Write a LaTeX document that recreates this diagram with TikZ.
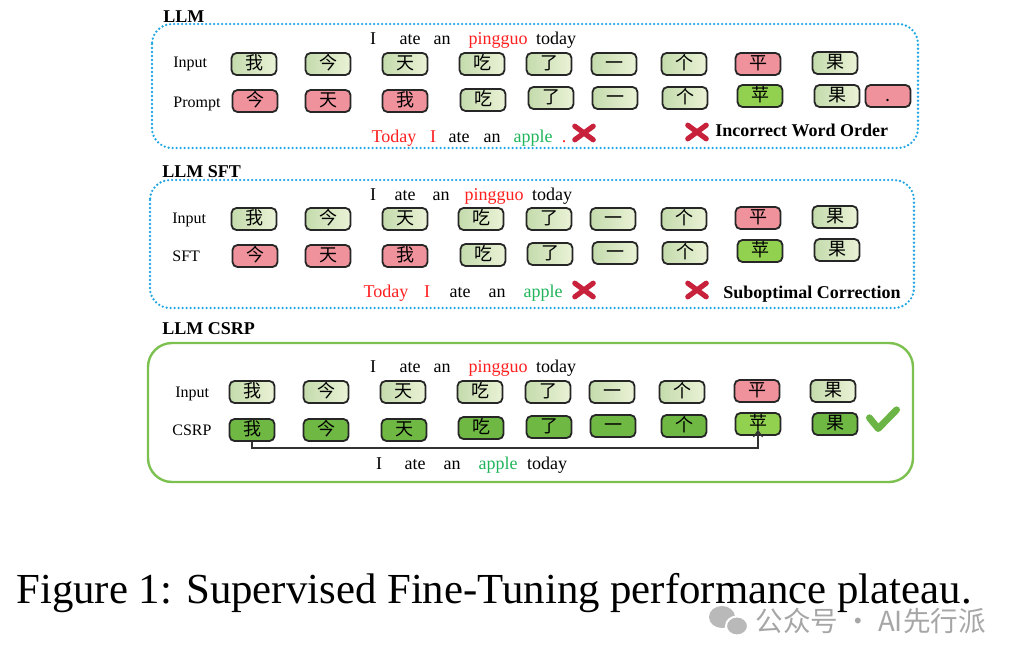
\documentclass[tikz,border=0pt]{standalone}
\usepackage{fontspec}
\setmainfont{Liberation Serif}
\newfontfamily\zh{Noto Sans CJK SC}
\usetikzlibrary{arrows.meta}

\definecolor{ginA}{HTML}{C4DBAC}
\definecolor{ginB}{HTML}{EAF2D6}
\definecolor{tokred}{HTML}{EF929B}
\definecolor{tokapple}{HTML}{92D050}
\definecolor{tokgood}{HTML}{70B844}
\definecolor{xred}{HTML}{C8213B}
\definecolor{wred}{HTML}{FF1E1E}
\definecolor{wgreen}{HTML}{1FB45A}
\definecolor{dotblue}{HTML}{22A7E3}
\definecolor{framegreen}{HTML}{7CC150}
\definecolor{checkgreen}{HTML}{6AB545}

\begin{document}
\begin{tikzpicture}[
        x=0.5pt, y=-0.5pt,
        font=\fontsize{9}{10}\selectfont,
        tok/.style={draw=black!85, line width=0.9pt, rounded corners=2.5pt, minimum width=22.5pt, minimum height=11pt, inner sep=0pt, text height=6.8pt, text depth=1.4pt, font=\zh\fontsize{9}{9}\selectfont},
        tin/.style={tok, left color=ginA, right color=ginB},
        tbad/.style={tok, fill=tokred},
        tfix/.style={tok, fill=tokapple},
        tgood/.style={tok, fill=tokgood},
        word/.style={anchor=base, inner sep=0pt},
        rowlabel/.style={anchor=base west, inner sep=0pt, font=\fontsize{8}{9}\selectfont},
        title/.style={anchor=base west, inner sep=0pt, font=\fontsize{9}{10}\selectfont\bfseries},
        verdict/.style={anchor=base west, inner sep=0pt, font=\fontsize{9}{10}\selectfont\bfseries},
        wrong/.style={minimum size=16pt, inner sep=0pt, path picture={
            \draw[xred, line width=2.6pt, line cap=round]
              ([shift={(-4.6pt,-3.4pt)}]path picture bounding box.center) -- ([shift={(4.6pt,3.4pt)}]path picture bounding box.center)
              ([shift={(-4.6pt,3.4pt)}]path picture bounding box.center) -- ([shift={(4.6pt,-3.4pt)}]path picture bounding box.center);}},
        right/.style={minimum size=24pt, inner sep=0pt, path picture={
            \draw[checkgreen, line width=3.4pt, line cap=round, line join=round]
              ([shift={(-6.8pt,0.6pt)}]path picture bounding box.center) -- ([shift={(-2.4pt,-4.8pt)}]path picture bounding box.center)
              -- ([shift={(6.8pt,4.6pt)}]path picture bounding box.center);}},
        dotframe/.style={draw=dotblue, line width=1.3pt, line cap=round, dash pattern=on 0pt off 2pt, rounded corners=10pt},
        solidframe/.style={draw=framegreen, line width=1.2pt, rounded corners=12pt}
      ]
      \useasboundingbox (0,0) rectangle (1018,664);

      % panel 1: LLM
      \draw[dotframe] (152,24) rectangle (918,148);
      \node[title] (t1) at (163,22) {LLM};
      \node[word] (aw1) at (373,45) {I};
      \node[word] (aw2) at (410,45) {ate};
      \node[word] (aw3) at (442,45) {an};
      \node[word, text=wred] (aw4) at (498,45) {pingguo};
      \node[word] (aw5) at (556,45) {today};
      \node[rowlabel] (la1) at (173,68) {Input};
      \node[tin] (a1) at (254,64) {我};
      \node[tin] (a2) at (328,64) {今};
      \node[tin] (a3) at (405,64) {天};
      \node[tin] (a4) at (482,64) {吃};
      \node[tin] (a5) at (549,64) {了};
      \node[tin] (a6) at (614,64) {一};
      \node[tin] (a7) at (684,64) {个};
      \node[tbad] (a8) at (758,64) {平};
      \node[tin] (a9) at (835,63) {果};
      \node[rowlabel] (lp1) at (173,107) {Prompt};
      \node[tbad] (p1) at (255,101) {今};
      \node[tbad] (p2) at (328,101) {天};
      \node[tbad] (p3) at (405,101) {我};
      \node[tin] (p4) at (483,100) {吃};
      \node[tin] (p5) at (551,98) {了};
      \node[tin] (p6) at (615,98) {一};
      \node[tin] (p7) at (685,98) {个};
      \node[tfix] (p8) at (760,96) {苹};
      \node[tin] (p9) at (837,96) {果};
      \node[tbad] (p10) at (888,96) {.};
      \node[word, text=wred] (bw1) at (394,142) {Today};
      \node[word, text=wred] (bw2) at (433,142) {I};
      \node[word] (bw3) at (459,142) {ate};
      \node[word] (bw4) at (492,142) {an};
      \node[word, text=wgreen] (bw5) at (533,142) {apple};
      \node[word, text=wred] (bw6) at (564,142) {.};
      \node[wrong] (x1) at (584,133) {};
      \node[wrong] (x2) at (697,132) {};
      \node[verdict] (v1) at (715,136) {Incorrect Word Order};

      % panel 2: LLM SFT
      \draw[dotframe] (150,180) rectangle (914,308);
      \node[title] (t2) at (162,177) {LLM SFT};
      \node[word] (cw1) at (373,200) {I};
      \node[word] (cw2) at (405,200) {ate};
      \node[word] (cw3) at (441,200) {an};
      \node[word, text=wred] (cw4) at (494,200) {pingguo};
      \node[word] (cw5) at (552,200) {today};
      \node[rowlabel] (la2) at (172,223) {Input};
      \node[tin] (b1) at (254,219) {我};
      \node[tin] (b2) at (328,219) {今};
      \node[tin] (b3) at (405,219) {天};
      \node[tin] (b4) at (481,219) {吃};
      \node[tin] (b5) at (549,219) {了};
      \node[tin] (b6) at (613,219) {一};
      \node[tin] (b7) at (684,219) {个};
      \node[tbad] (b8) at (758,218) {平};
      \node[tin] (b9) at (835,217) {果};
      \node[rowlabel] (ls2) at (172,261) {SFT};
      \node[tbad] (s1) at (255,256) {今};
      \node[tbad] (s2) at (328,256) {天};
      \node[tbad] (s3) at (405,256) {我};
      \node[tin] (s4) at (483,255) {吃};
      \node[tin] (s5) at (550,254) {了};
      \node[tin] (s6) at (615,253) {一};
      \node[tin] (s7) at (685,253) {个};
      \node[tfix] (s8) at (760,251) {苹};
      \node[tin] (s9) at (837,250) {果};
      \node[word, text=wred] (dw1) at (386,297) {Today};
      \node[word, text=wred] (dw2) at (427,297) {I};
      \node[word] (dw3) at (460,297) {ate};
      \node[word] (dw4) at (497,297) {an};
      \node[word, text=wgreen] (dw5) at (543,297) {apple};
      \node[wrong] (x3) at (584,290) {};
      \node[wrong] (x4) at (697,290) {};
      \node[verdict] (v2) at (723,298) {Suboptimal Correction};

      % panel 3: LLM CSRP
      \draw[solidframe] (148,343) rectangle (913,482);
      \node[title] (t3) at (162,334) {LLM CSRP};
      \node[word] (ew1) at (373,372) {I};
      \node[word] (ew2) at (410,372) {ate};
      \node[word] (ew3) at (442,372) {an};
      \node[word, text=wred] (ew4) at (498,372) {pingguo};
      \node[word] (ew5) at (556,372) {today};
      \node[rowlabel] (la3) at (175,397) {Input};
      \node[tin] (c1) at (252,392) {我};
      \node[tin] (c2) at (326,392) {今};
      \node[tin] (c3) at (403,392) {天};
      \node[tin] (c4) at (480,392) {吃};
      \node[tin] (c5) at (548,392) {了};
      \node[tin] (c6) at (612,392) {一};
      \node[tin] (c7) at (682,392) {个};
      \node[tbad] (c8) at (757,391) {平};
      \node[tin] (c9) at (833,391) {果};
      \node[rowlabel] (lr3) at (172,435) {CSRP};
      \node[tgood] (r1) at (252,430) {我};
      \node[tgood] (r2) at (326,430) {今};
      \node[tgood] (r3) at (404,430) {天};
      \node[tgood] (r4) at (481,428) {吃};
      \node[tgood] (r5) at (549,427) {了};
      \node[tgood] (r6) at (613,426) {一};
      \node[tgood] (r7) at (684,426) {个};
      \node[tfix] (r8) at (758,424) {苹};
      \node[tgood] (r9) at (835,424) {果};
      \node[right] (ok) at (883,419) {};
      \coordinate (turn) at (252,448);
      \draw[line width=0.6pt, black!80, -{Straight Barb[length=3pt, width=4.5pt]}] (r1.south) -- (turn) -| ([yshift=3pt]r8.south);
      \node[word] (fw1) at (379,469) {I};
      \node[word] (fw2) at (415,469) {ate};
      \node[word] (fw3) at (452,469) {an};
      \node[word, text=wgreen] (fw4) at (498,469) {apple};
      \node[word] (fw5) at (547,469) {today};

      % caption and watermark
      \node[anchor=base west, inner sep=0pt, font=\fontsize{21.4}{24}\selectfont] (cap) at (16,603) {Figure 1: Supervised Fine-Tuning performance plateau.};
      \fill[gray!55] (722,617) ellipse (13 and 11);
      \fill[gray!55, draw=white, line width=1pt] (737,626) ellipse (11 and 9.5);
      \node[anchor=west, inner sep=0pt, text=gray!70, font=\zh\fontsize{13.8}{14}\selectfont] (wm) at (755,621) {公众号 · AI先行派};
    \end{tikzpicture}
\end{document}
